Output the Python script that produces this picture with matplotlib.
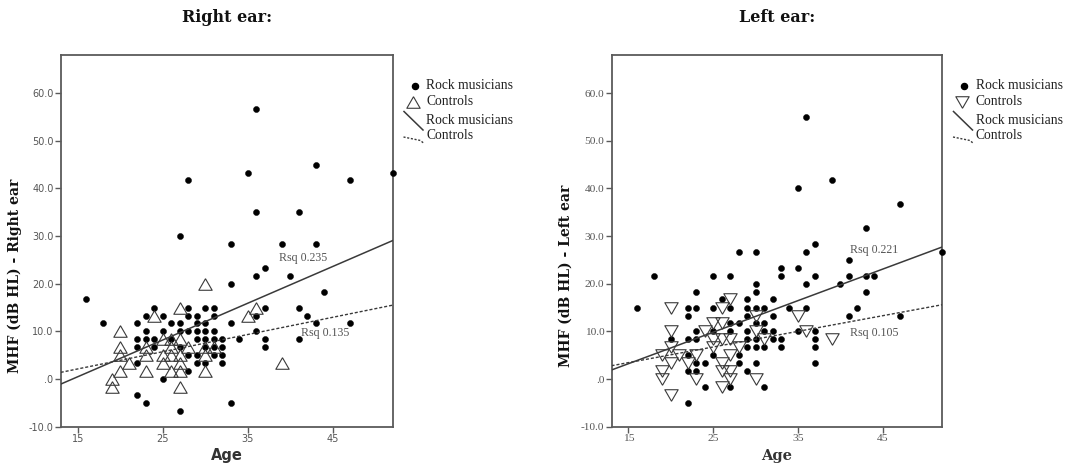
import matplotlib
matplotlib.use("Agg")
import matplotlib.pyplot as plt
from matplotlib.lines import Line2D
import numpy as np

# ---------------- data ----------------
x_ticks = [15, 25, 35, 45]
y_ticks = [-10, 0, 10, 20, 30, 40, 50, 60]
y_tick_labels = ["-10.0", ".0", "10.0", "20.0", "30.0", "40.0", "50.0", "60.0"]

# Right ear: age -> MHF values
rock_right = {
    16: [16.7], 18: [11.7],
    22: [11.7, 8.3, 6.7, 3.3, -3.3],
    23: [13.3, 10, 8.3, -5],
    24: [15, 8.3, 6.7],
    25: [13.3, 10, 0],
    26: [11.7, 8.3],
    27: [30, 11.7, 10, 6.7, -6.7],
    28: [41.7, 15, 13.3, 10, 5, 1.7],
    29: [13.3, 11.7, 10, 8.3, 5, 3.3],
    30: [15, 11.7, 10, 8.3, 6.7, 3.3],
    31: [15, 13.3, 10, 8.3, 6.7, 5],
    32: [8.3, 6.7, 5, 3.3],
    33: [28.3, 20, 11.7, -5],
    34: [8.3], 35: [43.3],
    36: [56.7, 35, 21.7, 13.3, 10],
    37: [23.3, 15, 8.3, 6.7],
    39: [28.3], 40: [21.7],
    41: [35, 15, 8.3], 42: [13.3],
    43: [45, 28.3, 11.7], 44: [18.3],
    47: [41.7, 11.7], 52: [43.3],
}
ctrl_right = {
    19: [0, -1.7], 20: [10, 6.7, 5, 1.7], 21: [3.3],
    23: [6.7, 5, 1.7], 24: [13.3], 25: [8.3, 5, 3.3],
    26: [8.3, 6.7, 5, 1.7], 27: [15, 8.3, 5, 3.3, 1.7, -1.7],
    28: [6.7], 30: [20, 6.7, 5, 1.7], 31: [6.7],
    35: [13.3], 36: [15], 39: [3.3],
}

# Left ear: age -> MHF values
rock_left = {
    16: [15], 18: [21.7], 20: [8.3],
    22: [15, 13.3, 8.3, 5, 1.7, -5],
    23: [18.3, 15, 10, 8.3, 3.3, 1.7],
    24: [3.3, -1.7],
    25: [21.7, 15, 10, 5],
    26: [16.7],
    27: [21.7, 15, 11.7, 10, -1.7],
    28: [26.7, 11.7, 5, 3.3],
    29: [16.7, 15, 13.3, 10, 8.3, 6.7, 1.7],
    30: [26.7, 20, 18.3, 15, 11.7, 8.3, 6.7, 3.3],
    31: [15, 11.7, 10, 6.7, -1.7],
    32: [16.7, 13.3, 10, 8.3],
    33: [23.3, 21.7, 8.3, 6.7],
    34: [15],
    35: [40, 23.3, 10],
    36: [55, 26.7, 20, 15],
    37: [28.3, 21.7, 10, 8.3, 6.7, 3.3],
    39: [41.7], 40: [20],
    41: [25, 21.7, 13.3], 42: [15],
    43: [31.7, 21.7, 18.3], 44: [21.7],
    47: [36.7, 13.3], 52: [26.7],
}
ctrl_left = {
    19: [5, 1.7, 0], 20: [15, 10, 6.7, 3.3, -3.3], 21: [5], 22: [3.3],
    23: [5, 0], 24: [10], 25: [11.7, 8.3, 6.7],
    26: [15, 11.7, 8.3, 3.3, 1.7, -1.7], 27: [16.7, 8.3, 5, 1.7, 0],
    28: [6.7], 30: [13.3, 10, 0], 31: [8.3],
    35: [13.3], 36: [10], 39: [8.3],
}

# Fit lines (intercept, slope) and R-squared labels
fit_right_rock = (-11.1, 0.772)
fit_right_ctrl = (-3.3, 0.3615)
fit_left_rock = (-6.7, 0.6615)
fit_left_ctrl = (-1.47, 0.328)
rsq_right = ["Rsq 0.235", "Rsq 0.135"]
rsq_left = ["Rsq 0.221", "Rsq 0.105"]
legend_labels = ["Rock musicians", "Controls", "Rock musicians", "Controls"]

# ---------------- figure ----------------
W, H = 1066, 467
fig = plt.figure(figsize=(W / 100, H / 100), dpi=100)


def px_axes(l, r, t, b):
    return [l / W, 1 - b / H, (r - l) / W, (b - t) / H]


def expand(d):
    xs = [a for a, vs in d.items() for _ in vs]
    ys = [v for vs in d.values() for v in vs]
    return xs, ys


tri_up = [(0, 0.75), (-0.866, -0.75), (0.866, -0.75), (0, 0.75)]
tri_down = [(0, -0.75), (-0.866, 0.75), (0.866, 0.75), (0, -0.75)]

SPINE = "#5a5a5a"
TICKC = "#555555"
XLIM = (13, 52)
YLIM = (-10, 68)


def panel(ax, rock, ctrl, tri, fit_r, fit_c, rsq, rsq_pos, ylabel, title,
          tick_family, age_family):
    xr, yr = expand(rock)
    xc, yc = expand(ctrl)
    ax.plot(xr, yr, linestyle="none", marker="o", ms=4.4, mfc="black",
            mec="black", mew=0.3, clip_on=False, zorder=3)
    ax.plot(xc, yc, linestyle="none", marker=tri, ms=9.6, mfc="none",
            mec="#3a3a3a", mew=0.8, clip_on=False, zorder=4)
    xx = np.array(XLIM, dtype=float)
    ax.plot(xx, fit_r[0] + fit_r[1] * xx, color="#3a3a3a", lw=1.1, zorder=5)
    ax.plot(xx, fit_c[0] + fit_c[1] * xx, color="#3a3a3a", lw=1.0,
            linestyle=(0, (2.2, 1.4)), zorder=5)
    for txt, (tx, ty) in zip(rsq, rsq_pos):
        ax.text(tx, ty, txt, ha="left", va="center", fontsize=8.6,
                color="#555555", family="Liberation Serif", zorder=6)
    ax.set_xlim(*XLIM)
    ax.set_ylim(*YLIM)
    ax.set_xticks(x_ticks)
    ax.set_yticks(y_ticks)
    ax.set_yticklabels(y_tick_labels)
    for lab in ax.get_xticklabels() + ax.get_yticklabels():
        lab.set_family(tick_family)
        lab.set_fontsize(7 if tick_family == "DejaVu Sans" else 8.2)
        lab.set_color(TICKC)
    ax.tick_params(direction="out", length=4, width=1.0, color=SPINE, pad=1.2)
    ax.tick_params(top=False, right=False)
    for sp in ax.spines.values():
        sp.set_color(SPINE)
        sp.set_linewidth(1.3)
    ax.set_ylabel(ylabel, fontsize=10, fontweight="bold", family="DejaVu Serif",
                  color="#111111", va="center")
    ax.yaxis.set_label_coords(-0.138, 0.405)
    ax.set_xlabel("Age", fontsize=10.5, fontweight="bold", family=age_family,
                  color="#333333", va="center")
    ax.xaxis.set_label_coords(0.5, -0.078)
    pos = ax.get_position()
    fig.text(pos.x0 + pos.width / 2, 1 - 18 / H, title, ha="center",
             va="center", fontsize=11.5, fontweight="bold",
             family="DejaVu Serif", color="#111111")

    # legend (manual, outside the axes at right)
    right_px = pos.x1 * W
    tx = right_px + 34
    rows = [85.7, 101.7, 120.5, 135.5]

    def fx(p):
        return p / W

    def fy(p):
        return 1 - p / H

    fig.add_artist(Line2D([fx(tx - 11.7)], [fy(rows[0])], marker="o", ms=4.4,
                          mfc="black", mec="black", linestyle="none"))
    fig.add_artist(Line2D([fx(tx - 14)], [fy(rows[1])], marker=tri, ms=9.6,
                          mfc="none", mec="#3a3a3a", mew=0.8, linestyle="none"))
    fig.add_artist(Line2D([fx(tx - 22.5), fx(tx - 3.5)],
                          [fy(rows[2] - 9), fy(rows[2] + 9.5)],
                          color="#3a3a3a", lw=1.1))
    fig.add_artist(Line2D([fx(tx - 23), fx(tx - 6), fx(tx - 2.5)],
                          [fy(rows[3] + 1.5), fy(rows[3] + 5), fy(rows[3] + 8)],
                          color="#3a3a3a", lw=1.0, linestyle=(0, (1.5, 1.2))))
    for lab, ry in zip(legend_labels, rows):
        fig.text(fx(tx), fy(ry), lab, ha="left", va="center", fontsize=9.8,
                 family="Liberation Serif", color="#222222")


axL = fig.add_axes(px_axes(60.7, 392.5, 55, 426.7))
axR = fig.add_axes(px_axes(611.5, 942, 55, 426.7))

panel(axL, rock_right, ctrl_right, tri_up, fit_right_rock, fit_right_ctrl,
      rsq_right, [(38.7, 25.3), (41.2, 9.6)], "MHF (dB HL) - Right ear",
      "Right ear:", "DejaVu Sans", "DejaVu Sans")
panel(axR, rock_left, ctrl_left, tri_down, fit_left_rock, fit_left_ctrl,
      rsq_left, [(41.2, 27.0), (41.2, 9.6)], "MHF (dB HL) - Left ear",
      "Left ear:", "Liberation Serif", "DejaVu Serif")

fig.savefig("out.png", dpi=100)
